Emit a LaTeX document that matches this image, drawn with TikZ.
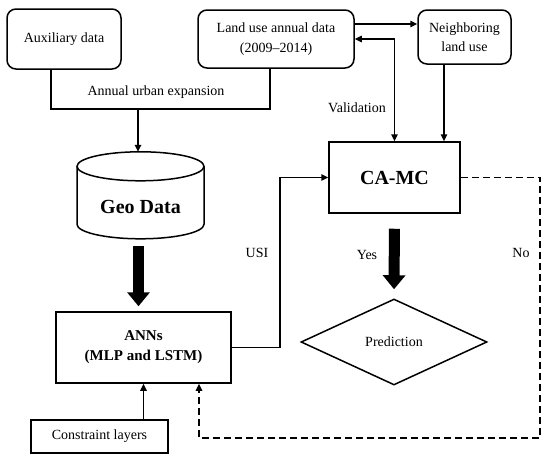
\documentclass[tikz,border=0pt]{standalone}
\usepackage{fontspec}
\setmainfont{Liberation Serif}
\usetikzlibrary{arrows.meta,shapes.geometric,calc}
\tikzset{
  lw/.style={line width=1.5pt},
  rbox/.style={draw,lw,rounded corners=9pt,align=center,inner sep=0pt,font=\fontsize{14}{20}\selectfont},
  sbox/.style={draw,lw,align=center,inner sep=0pt},
  con/.style={lw,-{Triangle[length=7pt,width=6.5pt]}},
  dcon/.style={con,dash pattern=on 7pt off 4pt},
  big/.style={line width=11pt,-{Triangle[length=14pt,width=22pt]}},
  lbl/.style={font=\fontsize{14}{16}\selectfont,inner sep=0pt}
}
\begin{document}
\begin{tikzpicture}[x=1pt,y=-1pt]
\useasboundingbox (0,0) rectangle (550,461);
% nodes
\node[rbox,minimum width=114pt,minimum height=60pt] (aux) at (64,39) {Auxiliary data};
\node[rbox,minimum width=156pt,minimum height=58pt] (land) at (276,39) {Land use annual data\\(2009--2014)};
\node[rbox,minimum width=93pt,minimum height=54pt,font=\fontsize{14}{19}\selectfont] (nb) at (464.5,37) {Neighboring\\land use};
\node[minimum width=127pt,minimum height=87pt,inner sep=0pt] (geo) at (140.5,195.5) {};
\node[font=\fontsize{20}{24}\selectfont\bfseries,inner sep=0pt] (geot) at (140.5,207) {Geo Data};
\node[sbox,minimum width=175pt,minimum height=71pt,font=\fontsize{15}{20}\selectfont\bfseries] (anns) at (143.5,347.5) {ANNs\\(MLP and LSTM)};
\node[sbox,minimum width=137pt,minimum height=33pt,font=\fontsize{14}{16}\selectfont] (cons) at (99.5,436.5) {Constraint layers};
\node[sbox,minimum width=131pt,minimum height=71pt,font=\fontsize{20}{24}\selectfont\bfseries] (camc) at (394.5,177.5) {CA-MC};
\node[diamond,draw,lw,aspect=2.16,minimum width=186pt,minimum height=86pt,inner sep=0pt,font=\fontsize{14}{16}\selectfont] (pred) at (394,342) {Prediction};
% cylinder outline
\path (geo.north) ++(0,14.5) coordinate (ctop);
\draw[lw] (ctop) ellipse [x radius=63.5pt, y radius=14.5pt];
\draw[lw] (ctop) ++(-63.5,0) -- ++(0,58)
  arc[start angle=180,end angle=360,x radius=63.5pt,y radius=14.5pt] -- ++(0,-58);
% bracket
\coordinate (brk) at (138,109);
\draw[lw] ([xshift=-13pt]aux.south) |- (brk) -| ([xshift=-6pt]land.south);
\node[lbl] (aue) at (156,92) {Annual urban expansion};
\draw[con] (brk) -- (brk |- geo.north);
% big arrows
\draw[big,shorten <=7pt,shorten >=5pt] ([xshift=-2pt]geo.south) -- ([xshift=-2pt]geo.south |- anns.north);
\draw[big,shorten <=15pt,shorten >=9pt] (camc.south) -- (pred.north);
% top connectors
\draw[con] ([yshift=15pt]land.east) -- ([yshift=15pt]land.east -| nb.west);
\draw[lw,{Triangle[length=7pt,width=6.5pt]}-{Triangle[length=7pt,width=6.5pt]}] (land.east) -| (camc.north);
\draw[con] ([xshift=-20.5pt]nb.south) -- ([xshift=-20.5pt]nb.south |- camc.north);
\node[lbl] (val) at (357,108) {Validation};
% USI
\coordinate (usix) at (280,300);
\draw[con] (anns.east) -- (anns.east -| usix) |- (camc.west);
\node[lbl] (usi) at (257,253) {USI};
% constraint
\draw[con] (anns.south |- cons.north) -- (anns.south);
% No loop
\coordinate (nox) at (540,438);
\draw[dcon] (camc.east) -| (nox) -| ([xshift=55.5pt]anns.south);
\node[lbl] (yes) at (367,255) {Yes};
\node[lbl] (no) at (521,253) {No};
\end{tikzpicture}
\end{document}
